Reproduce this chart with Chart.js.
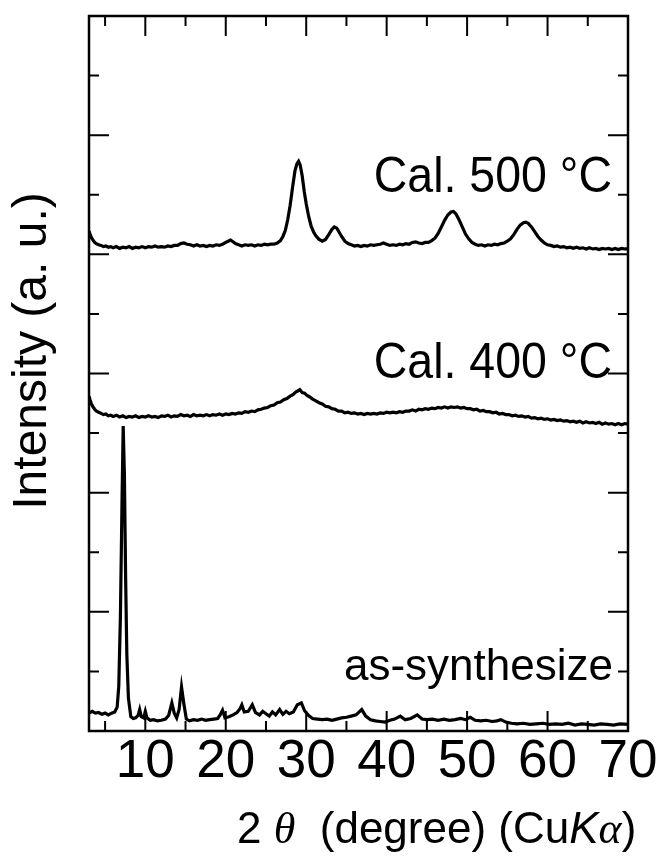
<!DOCTYPE html>
<html>
<head>
<meta charset="utf-8">
<script src="https://cdn.jsdelivr.net/npm/chart.js@4.4.0/dist/chart.umd.min.js"></script>
<style>
  html, body { margin: 0; padding: 0; background: #fff; }
</style>
</head>
<body>
<canvas id="grafica" width="662" height="857"></canvas>
<script>
const SANS = "'Liberation Sans', Arial, Helvetica, sans-serif";
const SERIF = "'Liberation Serif', 'Times New Roman', serif";

// [2theta, intensidad desplazada]
const calcinado500 = [
  [3.0,8.39],[3.15,8.33],[3.3,8.28],[3.5,8.24],[3.7,8.20],[3.9,8.18],[4.2,8.16],[4.5,8.15],[4.8,8.13],[5.1,8.14],
  [5.4,8.12],[5.7,8.13],[6.0,8.11],[6.4,8.13],[6.8,8.10],[7.2,8.12],[7.6,8.11],[8.0,8.13],[8.4,8.10],[8.8,8.12],
  [9.2,8.11],[9.6,8.13],[10.0,8.11],[10.4,8.13],[10.8,8.12],[11.2,8.14],[11.6,8.12],[12.0,8.13],[12.4,8.12],[12.8,8.14],
  [13.2,8.13],[13.6,8.15],[14.0,8.15],[14.4,8.18],[14.8,8.19],[15.2,8.17],[15.6,8.16],[16.0,8.14],[16.4,8.16],[16.8,8.14],
  [17.2,8.15],[17.6,8.13],[18.0,8.15],[18.4,8.14],[18.8,8.16],[19.2,8.15],[19.6,8.17],[20.0,8.20],[20.3,8.22],[20.6,8.24],
  [20.9,8.21],[21.2,8.18],[21.6,8.16],[22.0,8.14],[22.4,8.16],[22.8,8.15],[23.2,8.16],[23.6,8.14],[24.0,8.16],[24.4,8.15],
  [24.8,8.17],[25.2,8.16],[25.6,8.17],[26.0,8.17],[26.4,8.19],[26.8,8.23],[27.1,8.30],[27.4,8.40],[27.7,8.58],[28.0,8.82],
  [28.3,9.12],[28.6,9.40],[28.85,9.52],[29.05,9.56],[29.25,9.50],[29.5,9.32],[29.75,9.06],[30.0,8.85],[30.3,8.64],[30.6,8.48],
  [30.9,8.38],[31.2,8.31],[31.6,8.25],[32.0,8.22],[32.4,8.25],[32.8,8.33],[33.2,8.42],[33.5,8.46],[33.8,8.44],[34.1,8.37],
  [34.4,8.30],[34.8,8.22],[35.2,8.18],[35.6,8.16],[36.0,8.14],[36.4,8.15],[36.8,8.13],[37.2,8.15],[37.6,8.14],[38.0,8.16],
  [38.4,8.15],[38.8,8.16],[39.2,8.17],[39.6,8.19],[40.0,8.17],[40.4,8.15],[40.8,8.16],[41.2,8.15],[41.6,8.17],[42.0,8.16],
  [42.4,8.18],[42.8,8.17],[43.2,8.20],[43.6,8.21],[44.0,8.19],[44.4,8.18],[44.8,8.20],[45.2,8.20],[45.6,8.23],[46.0,8.27],
  [46.4,8.35],[46.8,8.46],[47.2,8.57],[47.6,8.66],[48.0,8.71],[48.3,8.72],[48.6,8.68],[49.0,8.58],[49.4,8.46],[49.8,8.34],
  [50.2,8.26],[50.6,8.20],[51.0,8.17],[51.4,8.15],[51.8,8.16],[52.2,8.14],[52.6,8.16],[53.0,8.15],[53.4,8.17],[53.8,8.16],
  [54.2,8.18],[54.6,8.19],[55.0,8.22],[55.4,8.26],[55.8,8.33],[56.2,8.42],[56.6,8.49],[57.0,8.53],[57.3,8.54],[57.6,8.52],
  [58.0,8.46],[58.4,8.38],[58.8,8.30],[59.2,8.24],[59.6,8.19],[60.0,8.16],[60.4,8.15],[60.8,8.13],[61.2,8.14],[61.6,8.12],
  [62.0,8.13],[62.4,8.11],[62.8,8.12],[63.2,8.10],[63.6,8.12],[64.0,8.10],[64.4,8.11],[64.8,8.09],[65.2,8.11],[65.6,8.09],
  [66.0,8.10],[66.4,8.08],[66.8,8.10],[67.2,8.09],[67.6,8.10],[68.0,8.08],[68.4,8.10],[68.8,8.08],[69.2,8.10],[69.6,8.09],
  [70.0,8.09]
];

const calcinado400 = [
  [3.0,5.62],[3.15,5.55],[3.3,5.49],[3.5,5.44],[3.7,5.40],[3.9,5.37],[4.2,5.35],[4.5,5.33],[4.8,5.31],[5.1,5.32],
  [5.4,5.29],[5.7,5.30],[6.0,5.28],[6.4,5.30],[6.8,5.27],[7.2,5.29],[7.6,5.26],[8.0,5.28],[8.4,5.27],[8.8,5.29],
  [9.2,5.26],[9.6,5.28],[10.0,5.27],[10.4,5.29],[10.8,5.27],[11.2,5.28],[11.6,5.26],[12.0,5.29],[12.4,5.28],[12.8,5.30],
  [13.2,5.27],[13.6,5.29],[14.0,5.28],[14.4,5.31],[14.8,5.29],[15.2,5.30],[15.6,5.28],[16.0,5.31],[16.4,5.29],[16.8,5.30],
  [17.2,5.29],[17.6,5.31],[18.0,5.29],[18.4,5.31],[18.8,5.30],[19.2,5.32],[19.6,5.30],[20.0,5.32],[20.4,5.31],[20.8,5.33],
  [21.2,5.32],[21.6,5.34],[22.0,5.33],[22.4,5.36],[22.8,5.35],[23.2,5.37],[23.6,5.36],[24.0,5.39],[24.4,5.40],[24.8,5.42],
  [25.2,5.43],[25.6,5.46],[26.0,5.47],[26.4,5.51],[26.8,5.52],[27.2,5.56],[27.6,5.58],[28.0,5.62],[28.4,5.65],[28.7,5.69],
  [29.0,5.71],[29.2,5.73],[29.5,5.68],[29.8,5.67],[30.1,5.63],[30.4,5.61],[30.8,5.57],[31.2,5.54],[31.6,5.51],[32.0,5.49],
  [32.4,5.45],[32.8,5.44],[33.2,5.41],[33.6,5.40],[34.0,5.37],[34.4,5.37],[34.8,5.34],[35.2,5.35],[35.6,5.33],[36.0,5.34],
  [36.4,5.32],[36.8,5.33],[37.2,5.31],[37.6,5.33],[38.0,5.32],[38.4,5.33],[38.8,5.32],[39.2,5.34],[39.6,5.33],[40.0,5.35],
  [40.4,5.34],[40.8,5.35],[41.2,5.34],[41.6,5.36],[42.0,5.35],[42.4,5.37],[42.8,5.37],[43.2,5.39],[43.6,5.37],[44.0,5.40],
  [44.4,5.39],[44.8,5.41],[45.2,5.40],[45.6,5.42],[46.0,5.41],[46.4,5.43],[46.8,5.42],[47.2,5.44],[47.6,5.42],[48.0,5.44],
  [48.4,5.43],[48.8,5.44],[49.2,5.42],[49.6,5.43],[50.0,5.41],[50.4,5.41],[50.8,5.39],[51.2,5.40],[51.6,5.37],[52.0,5.38],
  [52.4,5.36],[52.8,5.36],[53.2,5.34],[53.6,5.35],[54.0,5.32],[54.4,5.33],[54.8,5.31],[55.2,5.31],[55.6,5.29],[56.0,5.30],
  [56.4,5.28],[56.8,5.29],[57.2,5.27],[57.6,5.28],[58.0,5.25],[58.4,5.26],[58.8,5.24],[59.2,5.25],[59.6,5.23],[60.0,5.24],
  [60.4,5.22],[60.8,5.23],[61.2,5.21],[61.6,5.22],[62.0,5.20],[62.4,5.21],[62.8,5.19],[63.2,5.20],[63.6,5.18],[64.0,5.20],
  [64.4,5.17],[64.8,5.19],[65.2,5.17],[65.6,5.18],[66.0,5.16],[66.4,5.18],[66.8,5.15],[67.2,5.17],[67.6,5.15],[68.0,5.16],
  [68.4,5.14],[68.8,5.16],[69.2,5.14],[69.6,5.16],[70.0,5.15]
];

const sintetizado = [
  [3.0,0.30],[3.4,0.33],[3.8,0.30],[4.2,0.31],[4.6,0.28],[5.0,0.30],[5.4,0.27],[5.8,0.30],[6.2,0.32],[6.5,0.40],
  [6.7,0.75],[6.9,1.90],[7.1,3.80],[7.25,5.12],[7.4,4.30],[7.55,2.60],[7.7,1.30],[7.9,0.55],[8.2,0.24],[8.5,0.21],
  [8.8,0.22],[9.1,0.26],[9.3,0.36],[9.5,0.24],[9.8,0.22],[10.0,0.33],[10.2,0.22],[10.6,0.18],[11.0,0.19],[11.5,0.17],
  [12.0,0.18],[12.5,0.20],[12.9,0.26],[13.3,0.47],[13.6,0.30],[13.9,0.22],[14.2,0.36],[14.5,0.74],[14.8,0.45],[15.1,0.20],
  [15.5,0.17],[16.0,0.19],[16.5,0.18],[17.0,0.20],[17.5,0.18],[18.0,0.19],[18.5,0.20],[19.0,0.21],[19.3,0.27],[19.6,0.35],
  [19.9,0.22],[20.4,0.24],[20.9,0.27],[21.4,0.31],[21.8,0.38],[22.0,0.44],[22.3,0.32],[22.8,0.33],[23.3,0.44],[23.7,0.31],
  [24.2,0.27],[24.6,0.33],[25.0,0.29],[25.4,0.25],[25.8,0.32],[26.2,0.27],[26.7,0.36],[27.1,0.28],[27.5,0.33],[27.9,0.29],
  [28.4,0.32],[28.9,0.44],[29.4,0.47],[29.8,0.34],[30.3,0.26],[30.8,0.21],[31.4,0.20],[32.0,0.19],[32.6,0.20],[33.2,0.18],
  [33.8,0.20],[34.4,0.22],[35.0,0.23],[35.6,0.25],[36.2,0.27],[36.9,0.36],[37.4,0.25],[38.0,0.19],[38.6,0.17],[39.2,0.16],
  [39.8,0.15],[40.4,0.18],[41.0,0.20],[41.7,0.25],[42.3,0.19],[43.0,0.21],[43.8,0.27],[44.4,0.20],[45.0,0.19],[45.7,0.20],
  [46.4,0.18],[47.1,0.20],[47.8,0.18],[48.5,0.19],[49.2,0.21],[49.8,0.19],[50.4,0.23],[51.0,0.18],[51.7,0.17],[52.4,0.18],
  [53.1,0.16],[53.7,0.17],[54.2,0.19],[54.8,0.15],[55.5,0.13],[56.2,0.12],[57.0,0.13],[57.8,0.11],[58.6,0.12],[59.4,0.13],
  [60.2,0.11],[61.0,0.12],[61.8,0.11],[62.6,0.13],[63.4,0.10],[64.2,0.12],[65.0,0.11],[65.8,0.10],[66.6,0.12],[67.4,0.11],
  [68.2,0.10],[69.0,0.12],[70.0,0.11]
];

const ticksX = [5, 10, 15, 20, 25, 30, 35, 40, 45, 50, 55, 60, 65, 70];
const etiquetasX = [10, 20, 30, 40, 50, 60, 70];
const ticksY = [1, 2, 3, 4, 5, 6, 7, 8, 9, 10, 11];
const nombresSeries = ["Cal. 500 \u00B0C", "Cal. 400 \u00B0C", "as-synthesize"];

function aPuntos(lista){
    return lista.map(p => ({x: p[0], y: p[1]}));
}

function serie(lista){
    return {
        data: aPuntos(lista),
        borderColor: "#000",
        borderWidth: 3.2,
        pointRadius: 0,
        tension: 0,
        fill: false
    };
}

// texto algo angosto, como en la figura original
function textoAngosto(ctx, texto, derecha, base, escala){
    ctx.save();
    ctx.translate(derecha, base);
    ctx.scale(escala, 1);
    ctx.fillText(texto, 0, 0);
    ctx.restore();
}

const marco = {
    id: "marco",
    afterDatasetsDraw(chart){
        const {ctx, chartArea: a, scales: {x, y}} = chart;
        ctx.save();
        ctx.strokeStyle = "#000";
        ctx.lineWidth = 2;
        ctx.beginPath();
        ticksX.forEach(v => {
            const px = x.getPixelForValue(v);
            const largo = v % 10 === 0 ? 20 : 10;
            ctx.moveTo(px, a.top); ctx.lineTo(px, a.top + largo);
            ctx.moveTo(px, a.bottom); ctx.lineTo(px, a.bottom - largo);
        });
        ticksY.forEach(v => {
            const py = y.getPixelForValue(v);
            const largo = v % 2 === 0 ? 20 : 10;
            ctx.moveTo(a.left, py); ctx.lineTo(a.left + largo, py);
            ctx.moveTo(a.right, py); ctx.lineTo(a.right - largo, py);
        });
        ctx.stroke();
        ctx.lineWidth = 2.5;
        ctx.strokeRect(a.left, a.top, a.right - a.left, a.bottom - a.top);

        // nombres de las curvas
        ctx.fillStyle = "#000";
        ctx.textAlign = "right";
        ctx.textBaseline = "alphabetic";
        ctx.font = "50px " + SANS;
        textoAngosto(ctx, nombresSeries[0], a.right - 16, y.getPixelForValue(9.05), 0.93);
        textoAngosto(ctx, nombresSeries[1], a.right - 16, y.getPixelForValue(5.93), 0.93);
        ctx.font = "44px " + SANS;
        ctx.fillText(nombresSeries[2], a.right - 15, y.getPixelForValue(0.86));

        // titulo eje y
        ctx.save();
        ctx.translate(33, 351);
        ctx.rotate(-Math.PI / 2);
        ctx.textAlign = "center";
        ctx.textBaseline = "middle";
        ctx.font = "48px " + SANS;
        ctx.fillText("Intensity (a. u.)", 0, 0);
        ctx.restore();

        // titulo eje x, por partes
        const trozos = [
            ["2 ", "44px " + SANS],
            ["\u03B8", "italic 44px " + SERIF],
            ["  (degree) (Cu", "44px " + SANS],
            ["K", "italic 44px " + SANS],
            ["\u03B1", "italic 44px " + SERIF],
            [")", "44px " + SANS]
        ];
        ctx.textAlign = "left";
        let cx = 237;
        trozos.forEach(([t, f]) => {
            ctx.font = f;
            ctx.fillText(t, cx, 843);
            cx += ctx.measureText(t).width;
        });
        ctx.restore();
    }
};

const grafica = new Chart("grafica", {
    type: "line",
    data: {
        datasets: [serie(calcinado500), serie(calcinado400), serie(sintetizado)]
    },
    options: {
        responsive: false,
        animation: false,
        layout: { padding: { left: 89, right: 34, top: 16, bottom: 62.4 } },
        plugins: { legend: { display: false }, tooltip: { enabled: false } },
        scales: {
            x: {
                type: "linear",
                min: 3,
                max: 70,
                afterBuildTicks: (scale) => { scale.ticks = ticksX.map(v => ({value: v})); },
                ticks: {
                    autoSkip: false,
                    maxRotation: 0,
                    padding: 0,
                    color: "#000",
                    font: { family: SANS, size: 53 },
                    callback: (v) => etiquetasX.includes(v) ? String(v) : ""
                },
                grid: { display: false, drawTicks: false },
                border: { display: false }
            },
            y: { min: 0, max: 12, display: false }
        }
    },
    plugins: [marco]
});
</script>
</body>
</html>
